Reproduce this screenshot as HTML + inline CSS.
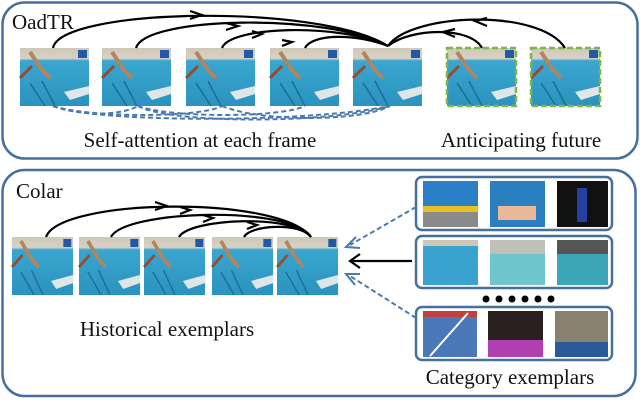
<!DOCTYPE html>
<html><head><meta charset="utf-8"><style>
html,body{margin:0;padding:0;background:#fff;}
svg{display:block;}
text{font-family:"Liberation Serif",serif;fill:#111;}
</style></head><body>
<svg width="640" height="400" viewBox="0 0 640 400" xmlns="http://www.w3.org/2000/svg">
<defs>
<linearGradient id="pool" x1="0" y1="0" x2="0" y2="1">
<stop offset="0" stop-color="#cfc8b8"/><stop offset="0.18" stop-color="#d8d2c4"/><stop offset="0.22" stop-color="#3aa6cf"/><stop offset="1" stop-color="#2a93bf"/>
</linearGradient>
<g id="fr">
<rect x="0" y="0" width="69" height="58" fill="url(#pool)"/>
<rect x="58" y="2" width="9" height="8" fill="#2357a8"/>
<polygon points="44,44 69,38 69,46 50,52" fill="#dfe6e8"/>
<line x1="10" y1="35" x2="25" y2="58" stroke="#1d6d92" stroke-width="1.5"/>
<line x1="22" y1="33" x2="35" y2="58" stroke="#1d6d92" stroke-width="1.5"/>
<line x1="0" y1="30" x2="12" y2="18" stroke="#9a4a2a" stroke-width="3"/>
<path d="M10,4 L22,22 L30,30" stroke="#b08660" stroke-width="4" fill="none"/>
</g>
</defs>
<!-- panels -->
<rect x="2.5" y="2.5" width="635" height="156" rx="22" fill="none" stroke="#45709e" stroke-width="2.5"/>
<rect x="2.5" y="170" width="633" height="226" rx="22" fill="none" stroke="#45709e" stroke-width="2.5"/>
<text x="12" y="29" font-size="21">OadTR</text>
<text x="16" y="198" font-size="21">Colar</text>
<!-- top frames -->
<use href="#fr" x="20" y="48"/>
<use href="#fr" x="102" y="48"/>
<use href="#fr" x="186" y="48"/>
<use href="#fr" x="270" y="48"/>
<use href="#fr" x="353" y="48"/>
<use href="#fr" x="447" y="48"/>
<use href="#fr" x="531" y="48"/>
<rect x="447" y="48" width="69" height="58" fill="none" stroke="#7ab648" stroke-width="2.5" stroke-dasharray="6,3"/>
<rect x="531" y="48" width="69" height="58" fill="none" stroke="#7ab648" stroke-width="2.5" stroke-dasharray="6,3"/>
<!-- top arcs -->
<g fill="none" stroke="#000" stroke-width="2.2">
<path d="M53,48 C60,8 320,3 388,46"/>
<path d="M136,48 C145,16 330,13 388,46"/>
<path d="M222,48 C230,26 340,23 388,46"/>
<path d="M305,48 C312,34 355,33 388,46"/>
<path d="M388,46 C410,13 540,8 565,48"/>
<path d="M388,46 C410,28 470,26 482,48"/>
</g>
<g fill="none" stroke="#000" stroke-width="2.2">
<path d="M190,11 L202,15 L190,19"/>
<path d="M226,23 L238,26 L226,30"/>
<path d="M252,31 L262,34 L252,38"/>
<path d="M282,40 L292,42 L282,46"/>
<path d="M487,18 L475,21 L487,26"/>
<path d="M455,29 L443,32 L455,37"/>
</g>
<!-- dashed attention -->
<g fill="none" stroke="#4c7ab0" stroke-width="2" stroke-dasharray="5,3">
<path d="M53,106 C90,122 300,124 390,106"/>
<path d="M53,106 C90,118 200,118 222,106"/>
<path d="M138,106 C170,124 330,124 390,106"/>
<path d="M138,106 C170,118 280,118 305,106"/>
<path d="M222,106 C260,122 360,122 390,106"/>
<path d="M53,106 C80,116 120,116 138,106"/>
</g>
<text x="200" y="147" font-size="21" text-anchor="middle">Self-attention at each frame</text>
<text x="521" y="147" font-size="21" text-anchor="middle">Anticipating future</text>
<!-- bottom frames -->
<g transform="translate(12,237) scale(0.885,1)"><use href="#fr"/></g>
<g transform="translate(79,237) scale(0.885,1)"><use href="#fr"/></g>
<g transform="translate(144,237) scale(0.885,1)"><use href="#fr"/></g>
<g transform="translate(212,237) scale(0.885,1)"><use href="#fr"/></g>
<g transform="translate(277,237) scale(0.885,1)"><use href="#fr"/></g>
<g fill="none" stroke="#000" stroke-width="2.2">
<path d="M46,237 C60,198 280,195 311,237"/>
<path d="M111,237 C125,210 290,205 311,237"/>
<path d="M179,237 C190,218 295,214 311,237"/>
<path d="M244,237 C250,225 300,222 311,237"/>
<path d="M155,202 L167,206 L155,210"/>
<path d="M180,207 L190,210 L180,214"/>
<path d="M203,215 L213,218 L203,222"/>
<path d="M247,222 L257,225 L247,229"/>
</g>
<text x="167" y="336" font-size="21" text-anchor="middle">Historical exemplars</text>
<!-- right boxes -->
<g fill="none" stroke="#45709e" stroke-width="2.5">
<rect x="416" y="177" width="196" height="53" rx="6"/>
<rect x="416" y="236" width="196" height="52" rx="6"/>
<rect x="416" y="307" width="196" height="53" rx="6"/>
</g>
<rect x="423" y="181" width="55" height="46" fill="#2a7fc6"/><rect x="423" y="206" width="55" height="6" fill="#e8c020"/><rect x="423" y="212" width="55" height="15" fill="#8a8a8a"/>
<rect x="490" y="181" width="55" height="46" fill="#2a7fc0"/><rect x="498" y="206" width="38" height="14" fill="#e8b898"/>
<rect x="557" y="181" width="51" height="46" fill="#111"/><rect x="577" y="188" width="10" height="34" fill="#2440a0"/>
<rect x="423" y="240" width="55" height="45" fill="#3aa2cf"/><rect x="423" y="240" width="55" height="6" fill="#cfc8b8"/>
<rect x="490" y="240" width="55" height="45" fill="#6ec6cc"/><rect x="490" y="240" width="55" height="14" fill="#c0c0b8"/>
<rect x="557" y="240" width="51" height="45" fill="#3aa6b8"/><rect x="557" y="240" width="51" height="14" fill="#555"/>
<rect x="423" y="311" width="54" height="46" fill="#4a78b8"/><rect x="423" y="311" width="54" height="6" fill="#c04040"/><line x1="430" y1="356" x2="468" y2="313" stroke="#fff" stroke-width="2"/>
<rect x="488" y="311" width="55" height="46" fill="#2a2020"/><rect x="488" y="340" width="55" height="17" fill="#b040b0"/>
<rect x="555" y="311" width="53" height="46" fill="#8a8070"/><rect x="555" y="342" width="53" height="15" fill="#2a5a9a"/>
<g fill="#000">
<circle cx="486" cy="299" r="3.5"/><circle cx="499" cy="299" r="3.5"/><circle cx="512" cy="299" r="3.5"/><circle cx="525" cy="299" r="3.5"/><circle cx="538" cy="299" r="3.5"/><circle cx="551" cy="299" r="3.5"/>
</g>
<text x="510" y="384" font-size="21" text-anchor="middle">Category exemplars</text>
<!-- arrows to history -->
<line x1="412" y1="261" x2="350" y2="261" stroke="#000" stroke-width="2.2"/>
<path d="M360,254 L350,261 L360,268" fill="none" stroke="#000" stroke-width="2.2"/>
<line x1="416" y1="207" x2="350" y2="245" stroke="#4c7ab0" stroke-width="2" stroke-dasharray="5,3"/>
<path d="M356,237 L346,247 L360,248" fill="none" stroke="#4c7ab0" stroke-width="2"/>
<line x1="416" y1="318" x2="350" y2="276" stroke="#4c7ab0" stroke-width="2" stroke-dasharray="5,3"/>
<path d="M360,274 L346,274 L355,285" fill="none" stroke="#4c7ab0" stroke-width="2"/>
</svg>
</body></html>
